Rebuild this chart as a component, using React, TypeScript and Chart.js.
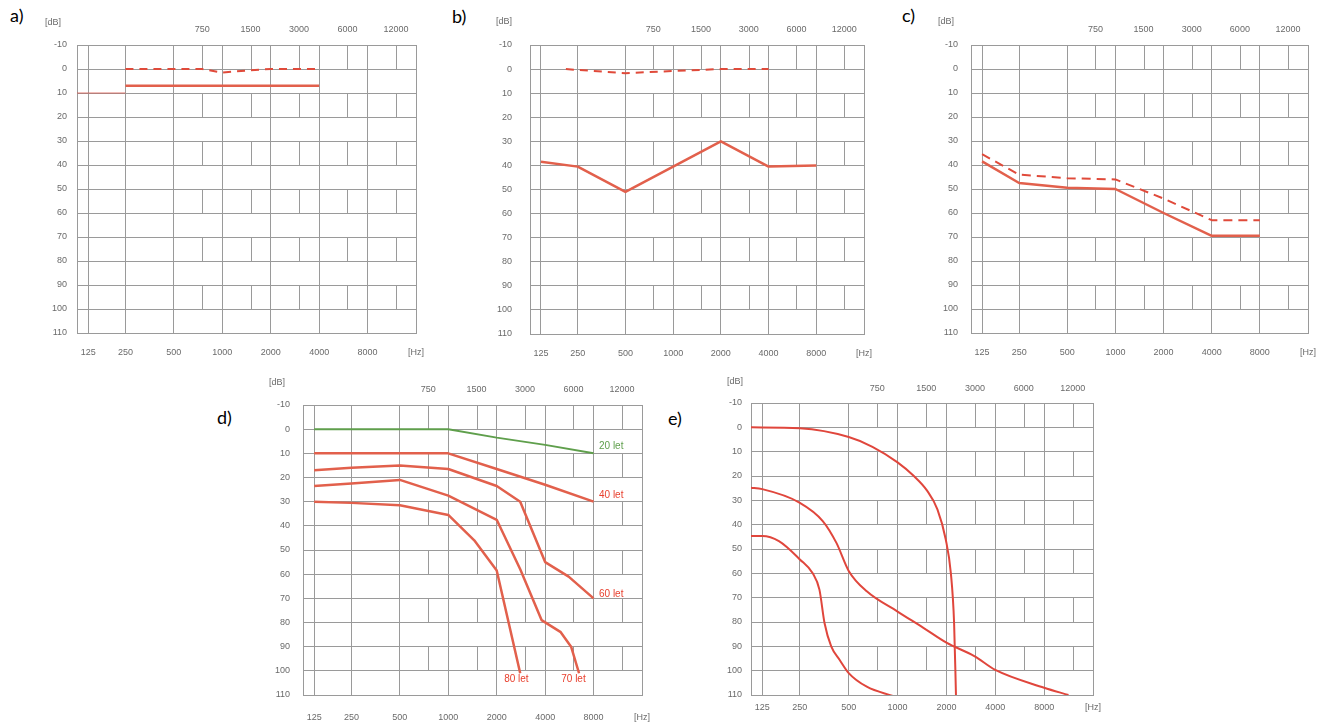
import React, { useEffect, useRef } from "react";
import { Chart, registerables } from "chart.js";

Chart.register(...registerables);
Chart.defaults.font.family = "'Liberation Sans', Arial, sans-serif";

// ---------- axes ----------
const OCTAVE_FREQS = [125, 250, 500, 1000, 2000, 4000, 8000];
const HALF_OCTAVE_FREQS = [750, 1500, 3000, 6000, 12000];
const DB_TICKS = [-10, 0, 10, 20, 30, 40, 50, 60, 70, 80, 90, 100, 110];
const BRICK_ROWS = [-10, 10, 30, 50, 70, 90];
const HZ_UNIT = "[Hz]";
const DB_UNIT = "[dB]";

// ---------- panel a ----------
const A_DASHED_FREQ = [250, 500, 750, 1000, 1500, 2000, 3000, 4000];
const A_DASHED = [0, 0, 0, 1.5, 0.5, 0, 0, 0];
const A_SOLID_FREQ = [250, 4000];
const A_SOLID = [7, 7];
const A_REF_FREQ = [100, 250];
const A_REF = [10, 10];

// ---------- panel b ----------
const B_DASHED_FREQ = [200, 500, 1000, 2000, 4000];
const B_DASHED = [0, 1.7, 0.8, 0, 0];
const B_SOLID_FREQ = [125, 250, 500, 1000, 2000, 4000, 8000];
const B_SOLID = [38.5, 40.5, 51, 40.5, 30, 40.5, 40];

// ---------- panel c ----------
const C_FREQ = [125, 250, 500, 1000, 2000, 4000, 8000];
const C_SOLID = [38.5, 47.5, 49.5, 50, 60, 69.5, 69.5];
const C_DASHED = [35.5, 44, 45.5, 46, 54, 63, 63];

// ---------- panel d ----------
const D_FREQ = [125, 250, 500, 1000, 2000, 4000, 8000];
const D_20 = [0, 0, 0, 0, 3.5, 6.5, 10];
const D_40 = [10, 10, 10, 10, 16.5, 23, 30];
const D_60_FREQ = [125, 250, 500, 1000, 2000, 2800, 4000, 5600, 8000];
const D_60 = [17, 16, 15, 16.5, 23.5, 30, 55, 61, 70];
const D_70_FREQ = [125, 250, 500, 1000, 2000, 2800, 3800, 5000, 5800, 6500];
const D_70 = [23.5, 22.5, 21, 27.5, 37.5, 58, 79, 84, 90, 101];
const D_80_FREQ = [125, 250, 500, 1000, 1450, 2000, 2800];
const D_80 = [30, 30.5, 31.5, 35.5, 46, 58.5, 101];
const D_NOTE_TEXT = ["20 let", "40 let", "60 let", "80 let", "70 let"];
const D_NOTE_FREQ = [10300, 10300, 10300, 2650, 6000];
const D_NOTE_DB = [7.2, 27.5, 68.4, 103.4, 103.4];

// ---------- panel e ----------
const E1_FREQ = [100, 250, 500, 700, 1000, 1260, 1520, 1760, 1980, 2130, 2230, 2290];
const E1 = [0, 0.4, 4, 8, 14.4, 20, 26, 33.7, 46, 60, 80.5, 110];
const E2_FREQ = [100, 125, 250, 346, 420, 500, 646, 1000, 1450, 2000, 2970, 4000, 8000, 11300];
const E2 = [24.8, 25.4, 31, 38.5, 47.5, 59, 67.4, 75.7, 82.5, 88.5, 94, 99.7, 107, 110];
const E3_FREQ = [100, 125, 170, 250, 300, 330, 355, 390, 440, 500, 646, 945];
const E3 = [44.7, 44.7, 46.8, 54.3, 60, 66.7, 80.5, 90, 95.6, 101, 106.6, 110.5];

// ---------- styling ----------
const GRID = "#9a9a9a";
const TICK = "#6a6a6a";
const RED = "#e2604c";
const RED_DASH = "#e04a3a";
const GREEN = "#5f9f4c";
const X_MIN = -1.0;
const X_MAX = 6.0;
const WY = 45;
const HT = 28;
const HB = 30;
const RP = 16;

// audiogram frequency axis: octaves above 250 Hz, 125-250 band slightly compressed
const octPos = (f: number) => (f >= 250 ? Math.log2(f / 250) : -0.77 * Math.log2(250 / f));

type Series = { freq: number[]; db: number[]; color: string; width: number; dash?: number[]; smooth?: boolean };
type Notes = { text: string[]; freq: number[]; db: number[]; colors: string[] };
type Panel = {
  key: string; letter: string; L: number; T: number; R: number; B: number;
  yPad: number; topPad: number; botPad: number; dbDx: number; dbDy: number;
  lx: number; ly: number; series: Series[]; notes?: Notes;
};

const PANELS: Panel[] = [
  {
    key: "a", letter: "a)", L: 77, T: 45, R: 416, B: 333, yPad: 10, topPad: 10, botPad: 14, dbDx: -24, dbDy: -22, lx: 10, ly: 6,
    series: [
      { freq: A_REF_FREQ, db: A_REF, color: "rgba(220,90,80,0.8)", width: 1 },
      { freq: A_SOLID_FREQ, db: A_SOLID, color: RED, width: 2.5 },
      { freq: A_DASHED_FREQ, db: A_DASHED, color: RED_DASH, width: 2, dash: [8, 6] },
    ],
  },
  {
    key: "b", letter: "b)", L: 530, T: 45, R: 864, B: 334, yPad: 18, topPad: 10, botPad: 14, dbDx: -26, dbDy: -23, lx: 452, ly: 7,
    series: [
      { freq: B_SOLID_FREQ, db: B_SOLID, color: RED, width: 2.5 },
      { freq: B_DASHED_FREQ, db: B_DASHED, color: RED_DASH, width: 2, dash: [8, 6] },
    ],
  },
  {
    key: "c", letter: "c)", L: 971, T: 45, R: 1308, B: 333, yPad: 13, topPad: 10, botPad: 14, dbDx: -25, dbDy: -23, lx: 902, ly: 6,
    series: [
      { freq: C_FREQ, db: C_SOLID, color: RED, width: 2.5 },
      { freq: C_FREQ, db: C_DASHED, color: RED_DASH, width: 2, dash: [9, 6] },
    ],
  },
  {
    key: "d", letter: "d)", L: 303, T: 405, R: 642, B: 695, yPad: 13, topPad: 10, botPad: 17, dbDx: -26, dbDy: -22, lx: 217, ly: 408,
    series: [
      { freq: D_FREQ, db: D_20, color: GREEN, width: 2 },
      { freq: D_FREQ, db: D_40, color: RED, width: 2.5 },
      { freq: D_60_FREQ, db: D_60, color: RED, width: 2.5 },
      { freq: D_70_FREQ, db: D_70, color: RED, width: 2.5 },
      { freq: D_80_FREQ, db: D_80, color: RED, width: 2.5 },
    ],
    notes: { text: D_NOTE_TEXT, freq: D_NOTE_FREQ, db: D_NOTE_DB, colors: [GREEN, "#e8402e", "#e8402e", "#e8402e", "#e8402e"] },
  },
  {
    key: "e", letter: "e)", L: 751, T: 403, R: 1093, B: 695, yPad: 9, topPad: 9, botPad: 7, dbDx: -16, dbDy: -21, lx: 668, ly: 409,
    series: [
      { freq: E1_FREQ, db: E1, color: "#e0463c", width: 2, smooth: true },
      { freq: E2_FREQ, db: E2, color: "#e0463c", width: 2, smooth: true },
      { freq: E3_FREQ, db: E3, color: "#e0463c", width: 2, smooth: true },
    ],
  },
];

const halfOctaveGrid = {
  id: "halfOctaveGrid",
  beforeDatasetsDraw(chart: any) {
    const { ctx } = chart;
    const x = chart.scales.x;
    const y = chart.scales.y;
    ctx.save();
    ctx.strokeStyle = GRID;
    ctx.lineWidth = 1;
    ctx.beginPath();
    HALF_OCTAVE_FREQS.forEach((f) => {
      const px = Math.round(x.getPixelForValue(octPos(f))) + 0.5;
      BRICK_ROWS.forEach((r) => {
        ctx.moveTo(px, y.getPixelForValue(r));
        ctx.lineTo(px, y.getPixelForValue(r + 10));
      });
    });
    ctx.stroke();
    ctx.restore();
  },
};

function makeTextPlugin(panel: Panel) {
  return {
    id: "texts" + panel.key,
    afterDraw(chart: any) {
      const { ctx, chartArea } = chart;
      ctx.save();
      ctx.font = "9px 'Liberation Sans', Arial, sans-serif";
      ctx.fillStyle = TICK;
      ctx.textAlign = "center";
      ctx.textBaseline = "middle";
      ctx.fillText(DB_UNIT, chartArea.left + panel.dbDx, chartArea.top + panel.dbDy);
      if (panel.notes) {
        const n = panel.notes;
        ctx.font = "10px 'Liberation Sans', Arial, sans-serif";
        n.text.forEach((t, i) => {
          ctx.fillStyle = n.colors[i];
          ctx.fillText(t, chart.scales.x.getPixelForValue(octPos(n.freq[i])), chart.scales.y.getPixelForValue(n.db[i]));
        });
      }
      ctx.restore();
    },
  };
}

function AudiogramChart({ panel }: { panel: Panel }) {
  const ref = useRef<HTMLCanvasElement>(null);
  const w = panel.R - panel.L + WY + RP;
  const h = panel.B - panel.T + HT + HB;
  useEffect(() => {
    const canvas = ref.current!;
    const datasets = panel.series.map((s) => ({
      data: s.freq.map((f, i) => ({ x: octPos(f), y: s.db[i] })),
      borderColor: s.color,
      backgroundColor: s.color,
      borderWidth: s.width,
      borderDash: s.dash || [],
      borderCapStyle: "butt",
      borderJoinStyle: "round",
      pointRadius: 0,
      fill: false,
      tension: 0,
      cubicInterpolationMode: s.smooth ? "monotone" : "default",
      xAxisID: "x",
      yAxisID: "y",
    }));
    const tickFont = { size: 9 };
    const chart = new Chart(canvas, {
      type: "line",
      data: { datasets } as any,
      options: {
        animation: false,
        responsive: false,
        events: [],
        layout: { padding: { left: 0, top: 0, right: RP, bottom: 0 } },
        plugins: { legend: { display: false }, tooltip: { enabled: false }, title: { display: false } },
        scales: {
          x: {
            type: "linear",
            position: "bottom",
            min: X_MIN,
            max: X_MAX,
            afterBuildTicks: (s: any) => {
              s.ticks = OCTAVE_FREQS.map((f) => ({ value: octPos(f) })).concat([{ value: X_MAX }]);
            },
            afterFit: (s: any) => {
              s.height = HB;
              s.paddingLeft = 0;
              s.paddingRight = 0;
            },
            ticks: {
              autoSkip: false,
              maxRotation: 0,
              minRotation: 0,
              padding: panel.botPad,
              color: TICK,
              font: tickFont,
              callback: (v: any) => {
                const i = OCTAVE_FREQS.findIndex((f) => Math.abs(octPos(f) - v) < 1e-6);
                return i >= 0 ? String(OCTAVE_FREQS[i]) : HZ_UNIT;
              },
            },
            grid: { color: GRID, lineWidth: 1, drawTicks: false },
            border: { display: true, color: GRID },
          },
          x2: {
            type: "linear",
            position: "top",
            min: X_MIN,
            max: X_MAX,
            afterBuildTicks: (s: any) => {
              s.ticks = HALF_OCTAVE_FREQS.map((f) => ({ value: octPos(f) }));
            },
            afterFit: (s: any) => {
              s.height = HT;
              s.paddingLeft = 0;
              s.paddingRight = 0;
            },
            ticks: {
              autoSkip: false,
              maxRotation: 0,
              minRotation: 0,
              padding: panel.topPad,
              color: TICK,
              font: tickFont,
              callback: (v: any) => {
                const i = HALF_OCTAVE_FREQS.findIndex((f) => Math.abs(octPos(f) - v) < 1e-6);
                return i >= 0 ? String(HALF_OCTAVE_FREQS[i]) : "";
              },
            },
            grid: { display: false, drawTicks: false },
            border: { display: false },
          },
          y: {
            type: "linear",
            reverse: true,
            min: -10,
            max: 110,
            afterBuildTicks: (s: any) => {
              s.ticks = DB_TICKS.map((v) => ({ value: v }));
            },
            afterFit: (s: any) => {
              s.width = WY;
              s.paddingTop = 0;
              s.paddingBottom = 0;
            },
            ticks: { padding: panel.yPad, color: TICK, font: tickFont, callback: (v: any) => String(v) },
            grid: { color: GRID, lineWidth: 1, drawTicks: false },
            border: { display: true, color: GRID },
          },
        } as any,
      },
      plugins: [halfOctaveGrid, makeTextPlugin(panel)],
    } as any);
    return () => chart.destroy();
  }, []);
  return (
    <canvas
      ref={ref}
      width={w}
      height={h}
      style={{ position: "absolute", left: panel.L - WY, top: panel.T - HT, width: w, height: h, display: "block" }}
    />
  );
}

export default function App() {
  return (
    <div style={{ position: "absolute", left: 0, top: 0, width: 1317, height: 724, overflow: "hidden", background: "#fff" }}>
      {PANELS.map((p) => (
        <React.Fragment key={p.key}>
          <AudiogramChart panel={p} />
          <div
            style={{
              position: "absolute",
              left: p.lx,
              top: p.ly,
              fontFamily: "Lato, 'Open Sans', sans-serif",
              fontSize: 18,
              lineHeight: "18px",
              color: "#000",
            }}
          >
            {p.letter}
          </div>
        </React.Fragment>
      ))}
    </div>
  );
}
